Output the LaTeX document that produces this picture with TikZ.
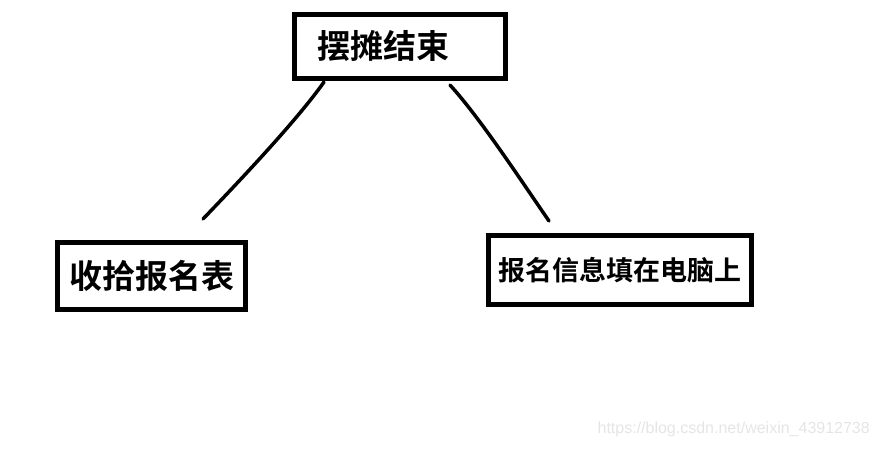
\documentclass[tikz,border=0pt]{standalone}
\usepackage{fontspec}
\newfontfamily\cjk{Noto Sans CJK SC}[BoldFont={Noto Sans CJK SC Bold}]
\newfontfamily\markfont{Liberation Sans}
\usetikzlibrary{positioning}
\tikzset{
  box/.style={draw, line width=5pt, inner sep=0pt, font=\cjk\bfseries\fontsize{33}{36}\selectfont},
  stroke/.style={line width=3.5pt, line cap=round, line join=round},
}

\begin{document}
\begin{tikzpicture}[x=1pt, y=-1pt]
    \useasboundingbox (0,0) rectangle (880,448);
    \node[box, minimum width=211pt, minimum height=64pt, text width=165pt,
          inner xsep=23pt, align=left] (jieshu) at (399.5,46) {摆摊结束};
    \node[box, minimum width=188pt, minimum height=67pt] (shoushi) at (151.5,276) {收拾报名表};
    \node[box, minimum width=263pt, minimum height=69pt,
          font=\cjk\bfseries\fontsize{27}{30}\selectfont] (diannao) at (620,270) {报名信息填在电脑上};
    % hand drawn strokes, they stop short of the boxes
    \coordinate (a1) at (324,82);
    \coordinate (a2) at (203,219);
    \coordinate (b1) at (450,85);
    \coordinate (b2) at (549,221);
    \draw[stroke] (a1) .. controls (300,116) and (252,168) .. (a2);
    \draw[stroke] (b1) .. controls (480,118) and (518,176) .. (b2);
    \node[anchor=east, text=black!10, font=\markfont\fontsize{16}{18}\selectfont, inner sep=0pt]
      (mark) at (870,429) {https://blog.csdn.net/weixin\_43912738};
\end{tikzpicture}
\end{document}
